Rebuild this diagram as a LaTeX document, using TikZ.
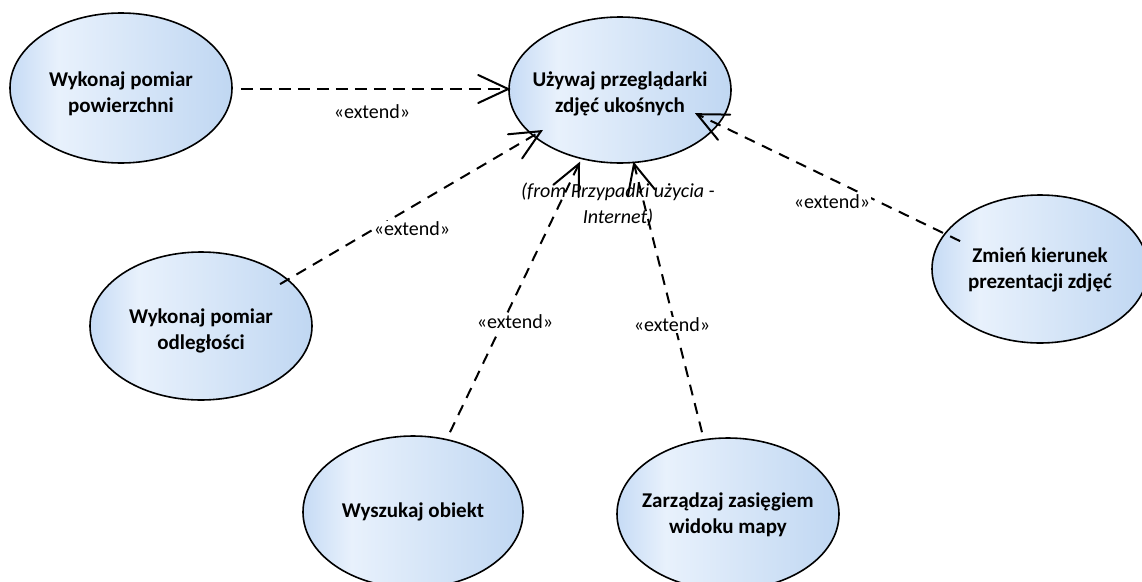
\documentclass[tikz,border=0pt]{standalone}
\usepackage{fontspec}
\setmainfont{Carlito}
\usetikzlibrary{arrows.meta,shapes.geometric,calc}
\definecolor{ucA}{HTML}{C6DBF5}
\definecolor{ucB}{HTML}{E8F1FC}
\definecolor{ucC}{HTML}{C0D7F2}
\pgfdeclarehorizontalshading{ucshade}{100bp}{color(0bp)=(ucA); color(25bp)=(ucA); color(36bp)=(ucB); color(75bp)=(ucC); color(100bp)=(ucC)}
\newcommand\vhead[2]{\draw[solid,line width=2pt,line cap=round,line join=miter]
  ($(#2)!30pt!(#1)!14pt!90:(#2)$) -- (#2) -- ($(#2)!30pt!(#1)!14pt!-90:(#2)$);}
\begin{document}
\begin{tikzpicture}[x=1pt,y=-1pt,
  usecase/.style={ellipse,draw=black,line width=1.6pt,shading=ucshade,
    minimum width=222pt,minimum height=150pt,inner sep=0pt},
  uctext/.style={align=center,font=\fontsize{21}{26}\selectfont\bfseries},
  ext/.style={line width=2pt,dash pattern=on 11pt off 8pt},
  extlabel/.style={fill=white,inner sep=1pt,font=\fontsize{20}{22}\selectfont}]
\useasboundingbox (0,0) rectangle (1142,581);
\node[usecase,label={[uctext,yshift=-6pt]center:Wykonaj pomiar\\powierzchni}] (e1) at (121,88) {};
\node[usecase,minimum height=146pt,label={[uctext,yshift=-4pt]center:Używaj przeglądarki\\zdjęć ukośnych}] (e2) at (620,90) {};
\node[usecase,minimum height=148pt,label={[uctext,yshift=-5pt]center:Wykonaj pomiar\\odległości}] (e3) at (201,326) {};
\node[usecase,minimum width=216pt,minimum height=148pt,label={[uctext,yshift=-1pt]center:Zmień kierunek\\prezentacji zdjęć}] (e4) at (1040,269) {};
\node[usecase,minimum width=220pt,minimum height=152pt,label={[uctext]center:Wyszukaj obiekt}] (e5) at (413,512) {};
\node[usecase,minimum width=222pt,minimum height=152pt,label={[uctext,yshift=-1pt]center:Zarządzaj zasięgiem\\widoku mapy}] (e6) at (728,514) {};
\node[font=\fontsize{20}{26}\selectfont\itshape,align=center] (from) at (618,205) {(from Przypadki użycia -\\Internet)};
% connector ends
\coordinate (s1) at ([xshift=8pt,yshift=-1pt]e1.east);
\coordinate (t1) at ([yshift=1pt]e2.west);
\coordinate (s2) at ([yshift=-11pt]e3.north east);
\coordinate (t2) at ([yshift=11pt]e2.south west);
\coordinate (s3) at ([xshift=37pt,yshift=3pt]e5.north);
\coordinate (t3) at ([xshift=-41pt]e2.south);
\coordinate (s4) at ([xshift=-26pt,yshift=5pt]e6.north);
\coordinate (t4) at ([xshift=14pt]e2.south);
\coordinate (s5) at ([xshift=-3pt,yshift=-25pt]e4.north west);
\coordinate (t5) at ([xshift=-2pt,yshift=28pt]e2.south east);
% connectors
\draw[ext,line width=2.6pt,dash pattern=on 12pt off 7pt] (s1) -- (t1);
\vhead{s1}{t1}
\draw[ext] (s2) -- (t2); \vhead{s2}{t2}
\draw[ext] (s3) -- (t3); \vhead{s3}{t3}
\draw[ext] (s4) -- (t4); \vhead{s4}{t4}
\draw[ext] (s5) -- (t5); \vhead{s5}{t5}
% labels
\node[extlabel] (l1) at (372,112) {«extend»};
\node[extlabel] (l2) at (412,229) {«extend»};
\node[extlabel] (l3) at (515,322) {«extend»};
\node[extlabel] (l4) at (672,325) {«extend»};
\node[extlabel] (l5) at (832,202) {«extend»};
\end{tikzpicture}
\end{document}
